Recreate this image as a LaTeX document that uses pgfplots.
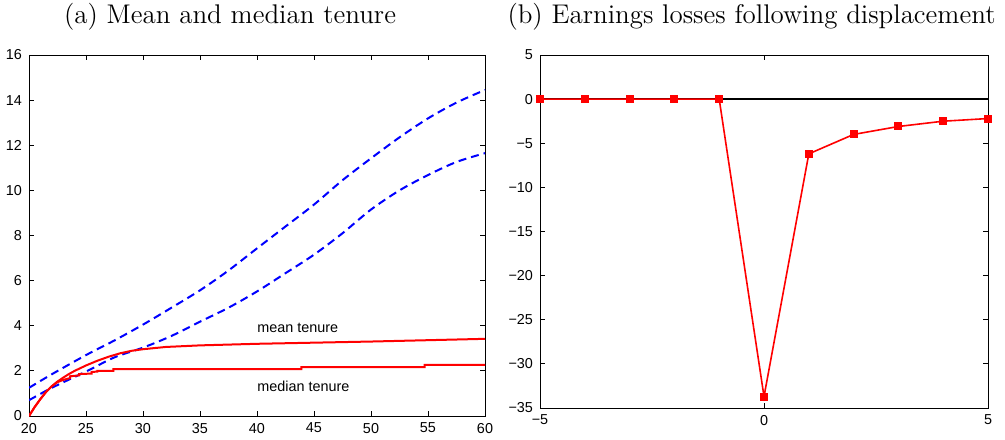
\documentclass[border=0pt]{standalone}
\usepackage{fontspec}
\newfontfamily\arial{Liberation Sans}
\usepackage{pgfplots}
\pgfplotsset{compat=1.18}
\definecolor{mred}{RGB}{255,0,0}
\definecolor{mblue}{RGB}{0,0,255}
\begin{document}
\begin{tikzpicture}
\useasboundingbox (0pt,0pt) rectangle (502.5pt,219.5pt);
\pgfplotsset{mat/.style={scale only axis, axis line style={line width=0.4pt},
  tick align=inside, tick pos=both, major tick length=2.5pt,
  tick style={line width=0.4pt, black},
  ticklabel style={font=\arial\fontsize{7.2}{8}\selectfont},
  /pgf/number format/assume math mode=true}}
% (a) tenure
\begin{axis}[mat, at={(14.5pt,11.5pt)}, anchor=south west, width=228pt, height=180.5pt,
  xmin=20, xmax=60, ymin=0, ymax=16, xtick={20,25,...,60}, ytick={0,2,...,16}]
\addplot[mblue, line width=1pt, dash pattern=on 4pt off 2.5pt, smooth] coordinates {
  (20,1.25) (22,1.85) (25,2.7) (27.5,3.35) (30,4.05) (32.5,4.8) (35,5.57) (37.5,6.45)
  (40,7.43) (42.5,8.4) (45,9.37) (47.5,10.45) (50,11.42) (52.5,12.35) (55,13.19)
  (57.5,13.89) (60,14.45)};
\addplot[mblue, line width=1pt, dash pattern=on 4pt off 2.5pt, smooth] coordinates {
  (20,0.7) (22,1.25) (25,1.97) (27.5,2.6) (30,3.03) (32.5,3.55) (35,4.18) (37.5,4.8)
  (40,5.52) (42.5,6.33) (45,7.15) (47.5,8.1) (50,9.15) (52.5,10.0) (55,10.68)
  (57.5,11.26) (60,11.65)};
\addplot[mred, line width=1pt] coordinates {
  (20,0) (20.5,0.4) (21,0.75) (21.5,1.07) (22,1.32) (22.5,1.53) (23,1.7) (23.5,1.86)
  (24,2.0) (25,2.24) (26,2.45) (27,2.63) (28,2.78) (29,2.89) (30,2.96) (32,3.06)
  (35,3.13) (40,3.2) (45,3.25) (50,3.3) (55,3.36) (60,3.42)};
\addplot[mred, line width=1pt] coordinates {
  (20,0) (20.5,0.4) (21,0.75) (21.5,1.07) (22,1.32) (22.5,1.5) (23,1.6) (23.6,1.68)
  (23.6,1.76) (24.4,1.8) (24.4,1.86) (25.5,1.88) (25.5,1.95) (26,1.97) (26,2.0)
  (27.4,2.0) (27.4,2.08) (43.9,2.08) (43.9,2.17) (54.7,2.17) (54.7,2.27) (60,2.27)};
\node[anchor=west, inner sep=0, font=\arial\fontsize{7.2}{8}\selectfont] at (axis cs:40,3.9) {mean tenure};
\node[anchor=west, inner sep=0, font=\arial\fontsize{7.2}{8}\selectfont] at (axis cs:40,1.3) {median tenure};
\end{axis}
% (b) earnings losses
\begin{axis}[mat, at={(270pt,15.5pt)}, anchor=south west, width=224pt, height=176.5pt,
  xmin=-5, xmax=5, ymin=-35, ymax=5, xtick={-5,0,5}, xticklabels={−5,0,5},
  ytick={-35,-30,...,5}, yticklabels={−35,−30,−25,−20,−15,−10,−5,0,5}]
\addplot[black, line width=0.8pt] coordinates {(-5,0) (5,0)};
\addplot[mred, line width=0.8pt, mark=square*, mark size=1.6pt, mark options={solid, fill=mred}] coordinates {
  (-5,0) (-4,0) (-3,0) (-2,0) (-1,0) (0,-33.7) (1,-6.2) (2,-4.0) (3,-3.1) (4,-2.5) (5,-2.2)};
\end{axis}
\node[anchor=base, font=\fontsize{13.5}{15}\selectfont] at (115pt,207.5pt) {(a) Mean and median tenure};
\node[anchor=base, font=\fontsize{13.5}{15}\selectfont] at (375.75pt,207.5pt) {(b) Earnings losses following displacement};
\end{tikzpicture}
\end{document}
